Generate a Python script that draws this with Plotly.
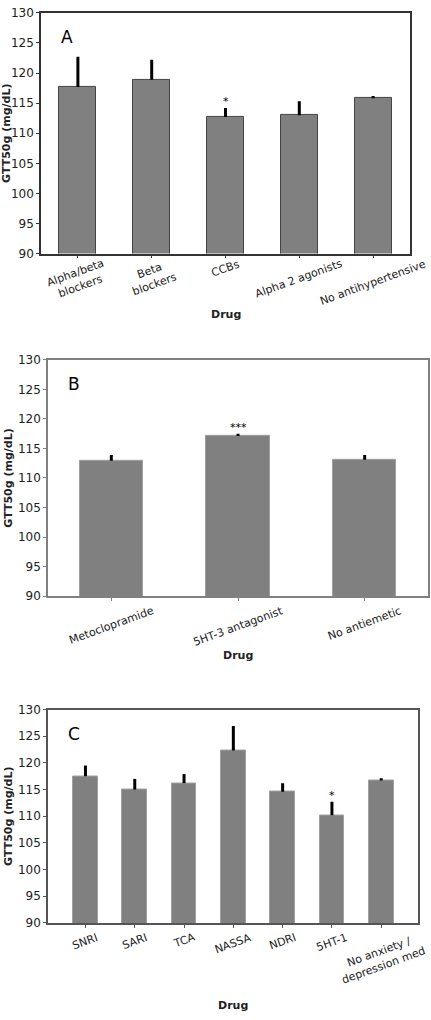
import math
import plotly.graph_objects as go

# ---------------- data ----------------
a_labels = ["Alpha/beta<br>blockers", "Beta<br>blockers", "CCBs", "Alpha 2 agonists", "No antihypertensive"]
a_values = [117.7, 118.9, 112.7, 113.0, 115.8]
a_errors = [5.0, 3.3, 1.5, 2.3, 0.4]
a_stars = ["", "", "*", "", ""]

b_labels = ["Metoclopramide", "5HT-3 antagonist", "No antiemetic"]
b_values = [112.9, 117.1, 113.1]
b_errors = [1.0, 0.4, 0.8]
b_stars = ["", "***", ""]

c_labels = ["SNRI", "SARI", "TCA", "NASSA", "NDRI", "5HT-1", "No anxiety /<br>depression med"]
c_values = [117.5, 115.0, 116.2, 122.3, 114.6, 110.2, 116.7]
c_errors = [2.0, 2.0, 1.7, 4.6, 1.6, 2.5, 0.4]
c_stars = ["", "", "", "", "", "*", ""]

y_ticks = [90, 95, 100, 105, 110, 115, 120, 125, 130]
panel_letters = ["A", "B", "C"]
y_title = "GTT50g (mg/dL)"
x_title = "Drug"

# ---------------- layout geometry (pixels) ----------------
W, H = 431, 1020
FONT = "DejaVu Sans"
LABEL_SIZE = 11
ANGLE = 20

# approximate DejaVu Sans advance widths (em) used to centre rotated labels
CW = {" ": .318, "/": .337, "-": .361, "A": .684, "B": .686, "C": .698, "D": .770,
      "H": .752, "I": .295, "M": .863, "N": .748, "R": .695, "S": .635, "T": .611,
      "a": .613, "b": .635, "c": .550, "d": .635, "e": .615, "g": .635, "h": .634,
      "i": .278, "k": .579, "l": .278, "m": .974, "n": .634, "o": .612, "p": .635,
      "r": .411, "s": .521, "t": .392, "v": .592, "x": .592, "y": .592}


def rotated_height(label):
    lines = label.split("<br>")
    w = max(sum(CW.get(ch, 0.636) for ch in ln) for ln in lines) * LABEL_SIZE
    h = LABEL_SIZE * 1.18 + (len(lines) - 1) * LABEL_SIZE * 1.2
    t = math.radians(ANGLE)
    return w * math.sin(t) + h * math.cos(t)


panels = [
    dict(labels=a_labels, values=a_values, errors=a_errors, stars=a_stars,
         left=41, right=410, top=6, bottom=250, xr=[-0.5, 4.5],
         frame="#333333", edge="#444444", label_top=254, title_y=312),
    dict(labels=b_labels, values=b_values, errors=b_errors, stars=b_stars,
         left=48, right=428, top=357.7, bottom=597.3, xr=[-0.5, 2.5],
         frame="#808080", edge="#a0a0a0", label_top=606, title_y=658),
    dict(labels=c_labels, values=c_values, errors=c_errors, stars=c_stars,
         left=48, right=417.7, top=712.3, bottom=928.7, xr=[-0.76, 6.74],
         frame="#555555", edge="#a0a0a0", label_top=937, title_y=1012),
]

fig = go.Figure()
annotations = []

for i, p in enumerate(panels):
    n = i + 1
    xa = "x" if n == 1 else f"x{n}"
    ya = "y" if n == 1 else f"y{n}"
    xkey = "xaxis" if n == 1 else f"xaxis{n}"
    ykey = "yaxis" if n == 1 else f"yaxis{n}"
    idx = list(range(len(p["labels"])))

    fig.add_trace(go.Bar(
        x=idx, y=p["values"], base=0, width=0.5,
        marker=dict(color="#808080", line=dict(color=p["edge"], width=1)),
        error_y=dict(type="data", symmetric=False, array=p["errors"],
                     arrayminus=[0] * len(idx), color="black", thickness=3, width=0),
        xaxis=xa, yaxis=ya, showlegend=False, hoverinfo="skip",
    ))

    fig.layout[xkey] = dict(
        domain=[p["left"] / W, p["right"] / W], anchor=ya,
        range=p["xr"], tickvals=idx, ticktext=[""] * len(idx),
        ticks="outside", ticklen=3, tickcolor=p["frame"],
        showline=True, linecolor=p["frame"], linewidth=1.5, mirror=True,
        showgrid=False, zeroline=False, fixedrange=True,
    )
    fig.layout[ykey] = dict(
        domain=[1 - p["bottom"] / H, 1 - p["top"] / H], anchor=xa,
        range=[90, 130], tickvals=y_ticks,
        ticks="outside", ticklen=3, tickcolor=p["frame"],
        tickfont=dict(family=FONT, size=12, color="#222222"),
        title=dict(text="<b>" + y_title + "</b>", standoff=3,
                   font=dict(family=FONT, size=11, color="#222222")),
        showline=True, linecolor=p["frame"], linewidth=1.5, mirror=True,
        showgrid=False, zeroline=False, fixedrange=True,
    )

    # category tick labels (rotated, centred on tick, top of rotated box aligned)
    for k, lab in enumerate(p["labels"]):
        yc = p["label_top"] + rotated_height(lab) / 2
        annotations.append(dict(
            x=k, xref=xa, y=1 - yc / H, yref="paper",
            text=lab, textangle=-ANGLE, showarrow=False,
            xanchor="center", yanchor="middle", align="center",
            font=dict(family=FONT, size=LABEL_SIZE, color="#222222"),
        ))
    # significance stars
    for k, s in enumerate(p["stars"]):
        if s:
            annotations.append(dict(
                x=k, xref=xa, y=p["values"][k] + p["errors"][k], yref=ya,
                text=s, showarrow=False, xanchor="center", yanchor="bottom",
                yshift=-2, font=dict(family=FONT, size=11, color="black"),
            ))
    # panel letter
    annotations.append(dict(
        x=p["xr"][0], xref=xa, xshift=18, y=130, yref=ya, yshift=-12,
        text=panel_letters[i], showarrow=False, xanchor="left", yanchor="top",
        font=dict(family=FONT, size=17, color="black"),
    ))
    # x title
    annotations.append(dict(
        x=(p["left"] + p["right"]) / 2 / W, xref="paper",
        y=1 - p["title_y"] / H, yref="paper",
        text="<b>" + x_title + "</b>", showarrow=False,
        xanchor="center", yanchor="middle",
        font=dict(family=FONT, size=11, color="#222222"),
    ))

fig.update_layout(
    width=W, height=H, margin=dict(l=0, r=0, t=0, b=0),
    paper_bgcolor="white", plot_bgcolor="white",
    annotations=annotations, bargap=0,
    font=dict(family=FONT),
)

fig.write_html("out.html", config={"displayModeBar": False},
               post_script="document.body.style.margin='0';document.body.style.overflow='hidden';")
